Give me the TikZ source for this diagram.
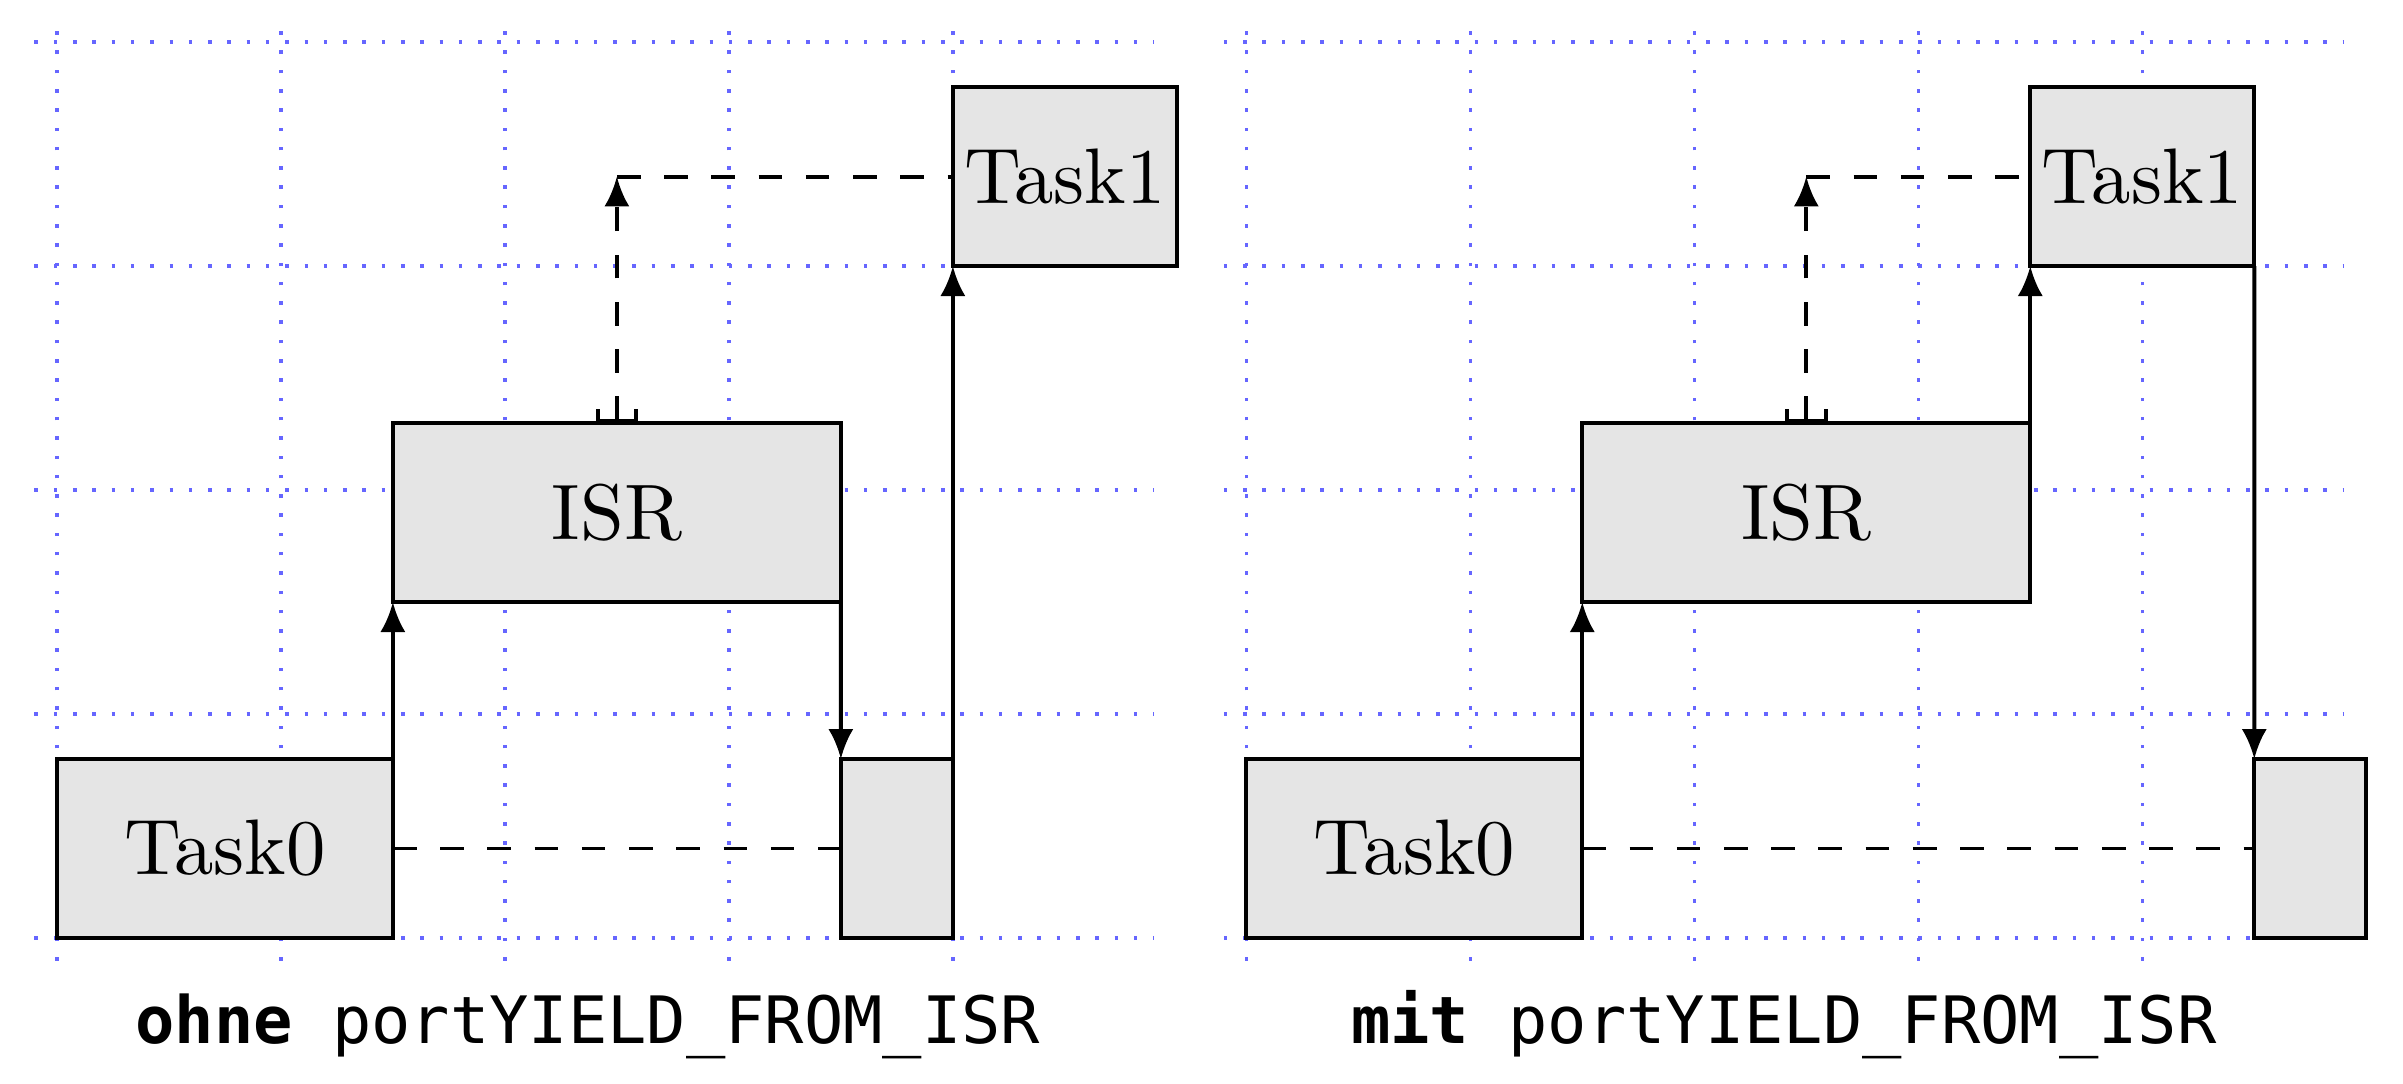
\documentclass[tikz,border=0pt]{standalone}
\usepackage{fontspec}
\setmonofont{DejaVu Sans Mono}
\usetikzlibrary{positioning, arrows.meta}

\begin{document}
\begin{tikzpicture}[
  box/.style={draw=black, fill=gray!20, line width=0.5pt, inner sep=0pt, outer sep=0pt, minimum height=0.8cm},
  gridline/.style={draw=blue!60, dotted, line width=0.45pt},
  flow/.style={line width=0.5pt, -{Latex[length=3.8pt, width=3.2pt]}},
  idle/.style={line width=0.5pt, dashed},
  wake/.style={idle, {Bracket[width=5.4pt, length=1.5pt]}-{Latex[length=3.8pt, width=3.2pt]}},
  sub/.style={font=\ttfamily\fontsize{8.3}{10}\selectfont, anchor=base},
]
\useasboundingbox (-0.254,-0.647) rectangle (10.474,4.188);

% --- left: without yield, Task0 resumes after the ISR
\draw[gridline] (-0.1,-0.1) grid (4.9,4.05);
\node[box, minimum width=1.5cm, anchor=south west] (t0o) at (0,0) {Task0};
\node[box, minimum width=2cm, above right=0.7cm and 0cm of t0o.north east] (isro) {ISR};
\node[box, minimum width=0.5cm, right=2cm of t0o] (r0o) {};
\node[box, minimum width=1cm, above right=0.7cm and 0.5cm of isro.north east] (t1o) {Task1};

\draw[flow] (t0o.north east) -- (isro.south west);
\draw[flow] (isro.south east) -- (r0o.north west);
\draw[flow] (r0o.north east) -- (t1o.south west);
\draw[idle] (t0o.east) -- (r0o.west);
\coordinate (ko) at (isro.north |- t1o.west);
\draw[wake] (isro.north) -- (ko);
\draw[idle] (ko) -- (t1o.west);

\node[sub] (capo) at (2.37,-0.47) {{\bfseries ohne} portYIELD\_FROM\_ISR};

% --- right: with yield, Task1 runs straight after the ISR
\begin{scope}[xshift=5.31cm]
\draw[gridline] (-0.1,-0.1) grid (4.9,4.05);
\node[box, minimum width=1.5cm, anchor=south west] (t0m) at (0,0) {Task0};
\node[box, minimum width=2cm, above right=0.7cm and 0cm of t0m.north east] (isrm) {ISR};
\node[box, minimum width=1cm, above right=0.7cm and 0cm of isrm.north east] (t1m) {Task1};
\node[box, minimum width=0.5cm, right=3cm of t0m] (r0m) {};

\draw[flow] (t0m.north east) -- (isrm.south west);
\draw[flow] (isrm.north east) -- (t1m.south west);
\draw[flow] (t1m.south east) -- (r0m.north west);
\draw[idle] (t0m.east) -- (r0m.west);
\coordinate (km) at (isrm.north |- t1m.west);
\draw[wake] (isrm.north) -- (km);
\draw[idle] (km) -- (t1m.west);

\node[sub] (capm) at (2.40,-0.47) {{\bfseries mit} portYIELD\_FROM\_ISR};
\end{scope}
\end{tikzpicture}
\end{document}
